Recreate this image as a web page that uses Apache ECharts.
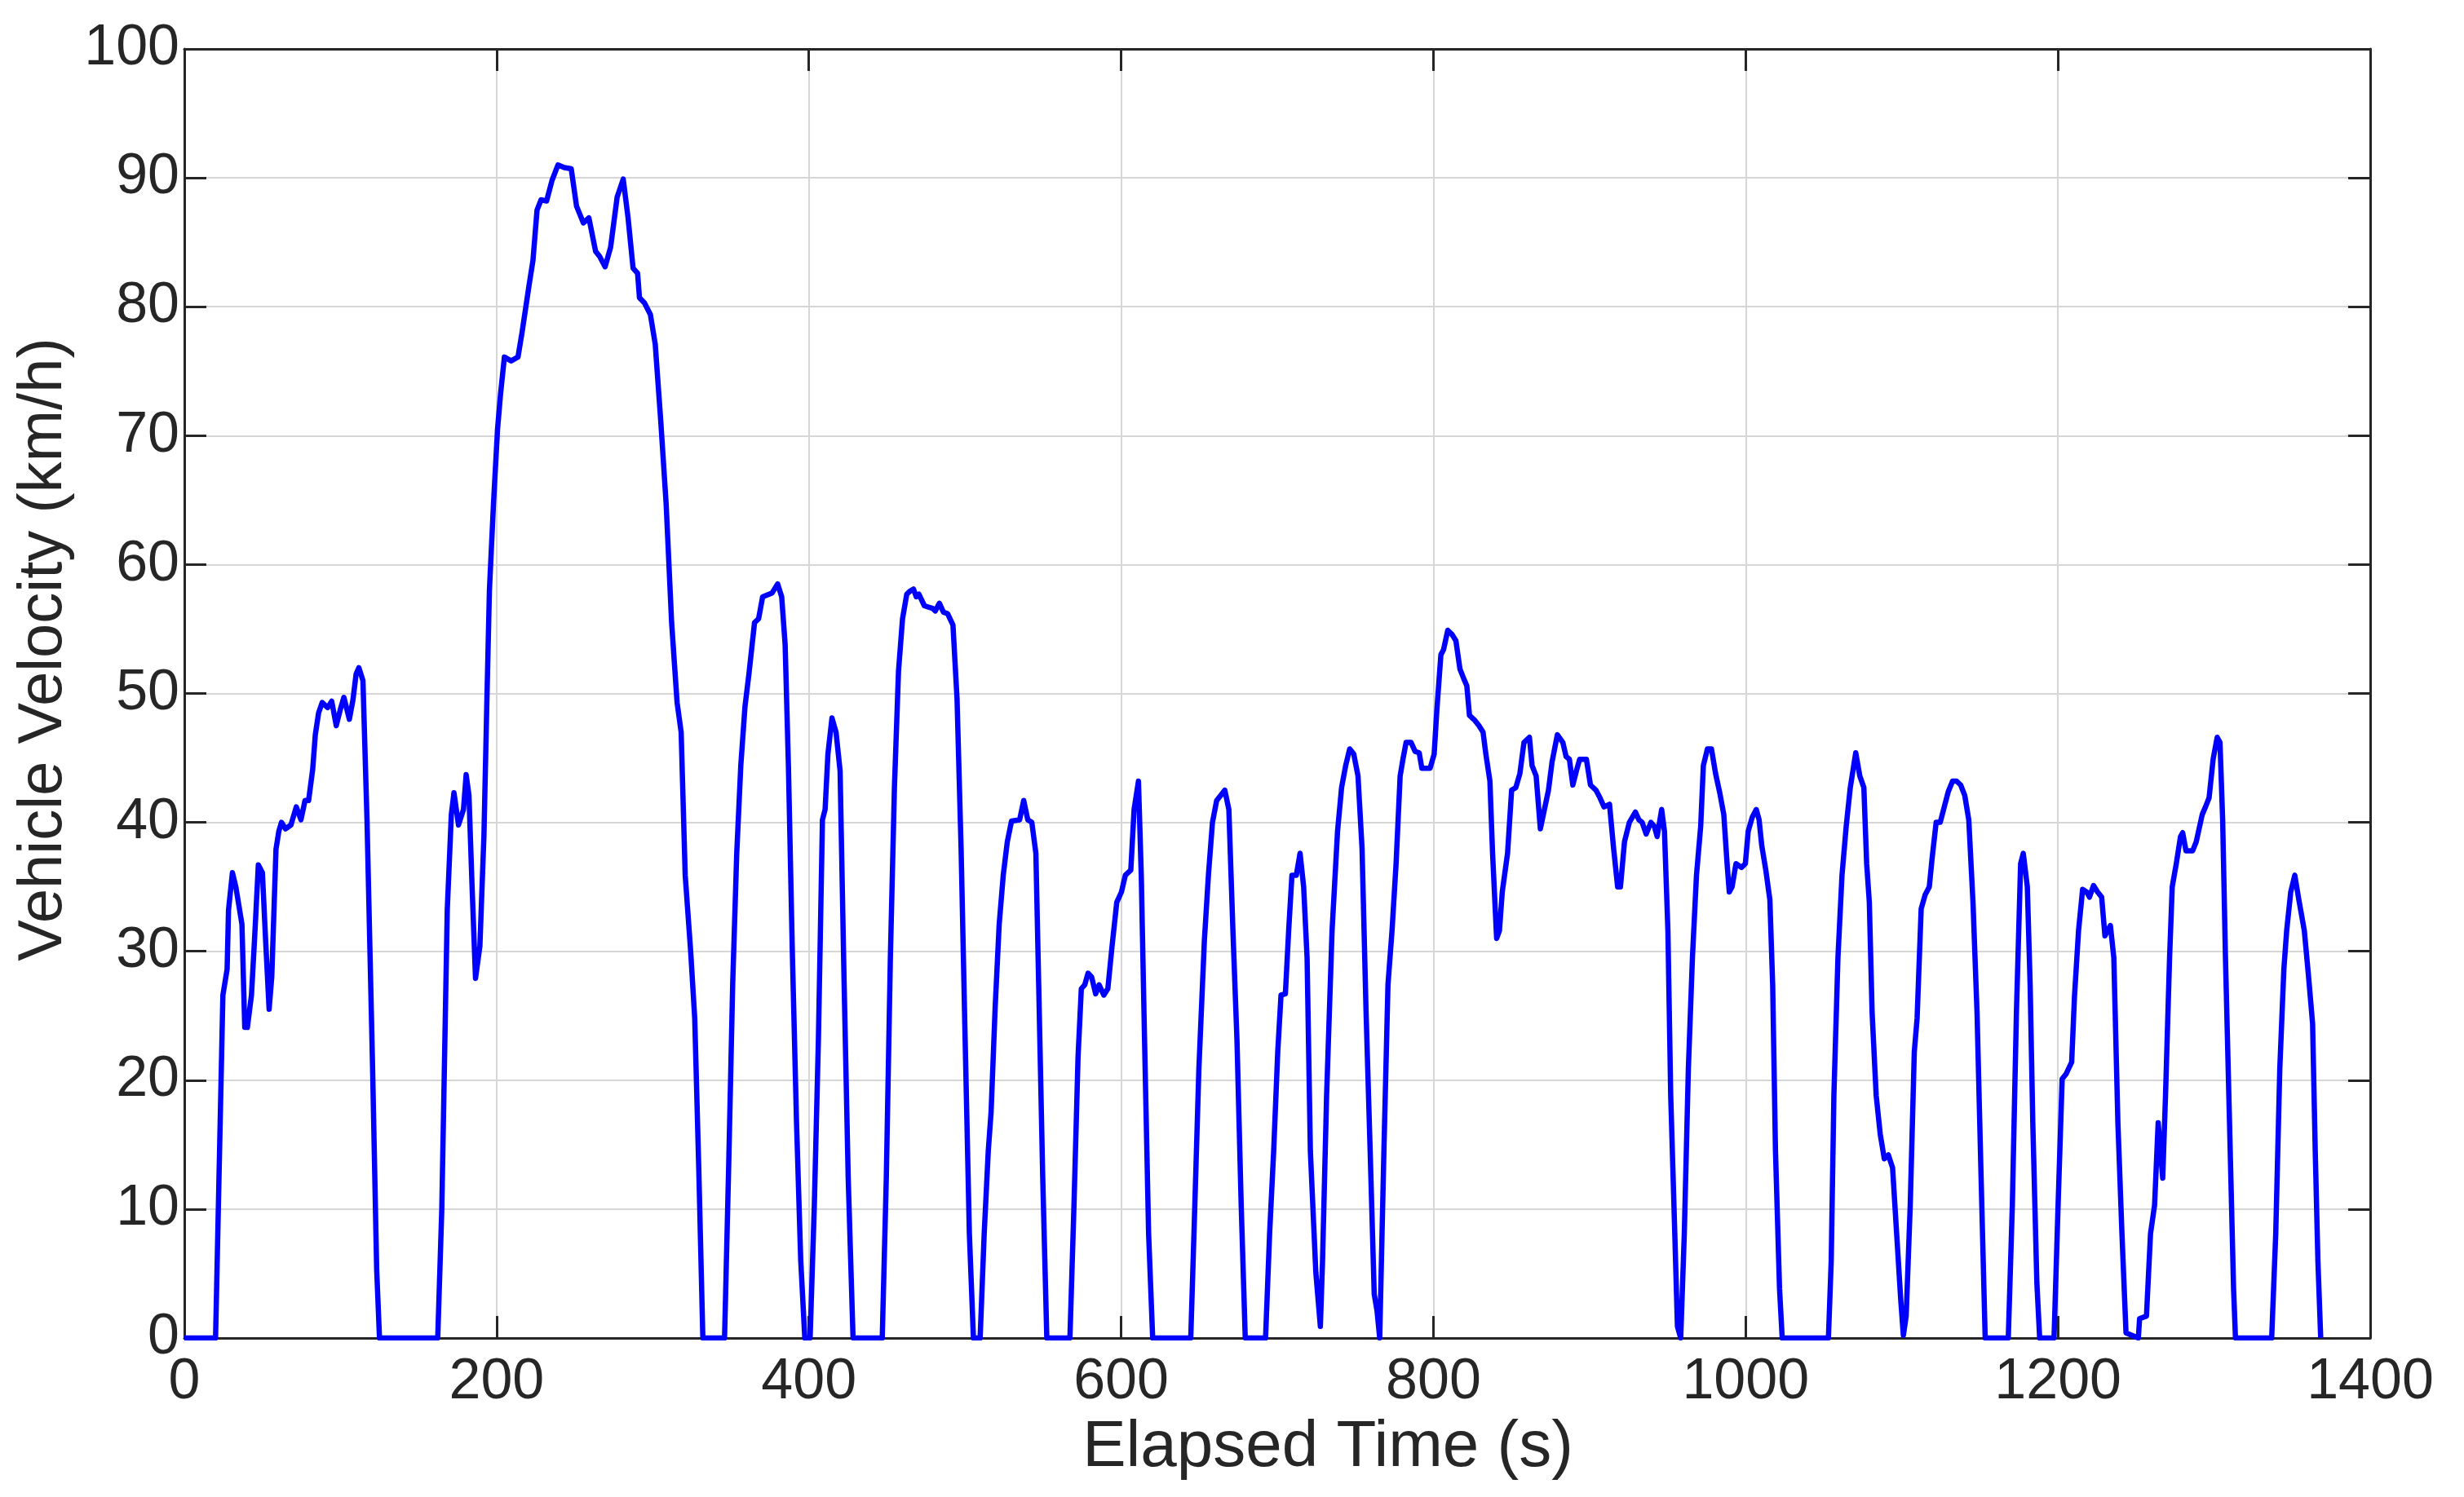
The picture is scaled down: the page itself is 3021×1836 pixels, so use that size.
<!DOCTYPE html>
<html>
<head>
<meta charset="utf-8">
<script src="https://cdn.jsdelivr.net/npm/echarts@6/dist/echarts.min.js"></script>
<style>
  html, body { margin: 0; padding: 0; background: #ffffff; }
  #chart { width: 3021px; height: 1836px; }
</style>
</head>
<body>
<div id="chart"></div>
<script>
// Elapsed time (s) and vehicle velocity (km/h)
const timeS = [
  0, 20, 24.7, 27.4, 28.3, 30.8, 33, 36.9, 38.7, 40.4, 43, 45, 47.4, 50, 52, 54.3, 56, 58.7, 60.5, 62.2,
  64.8, 68.3, 70, 71.7, 74.7, 77.3, 79.6, 82.2, 83.9, 86, 88.3, 91.8, 94.4, 97.3, 100, 102.2, 105.7, 108, 110, 111.8,
  114.4, 117, 120.6, 123.2, 125,
  162.3, 164.9, 168.4, 171, 172.7, 175.6, 178.8, 180.5, 182.3, 184.3, 186.5, 189.3, 191.9, 193.7, 195.4, 198, 200.6, 202.5, 205, 209.3,
  213.7, 216.3, 220.7, 223.3, 225.9, 228.5, 232, 235.5, 239.3, 243.3, 247.8, 251.2, 255.6, 259.1, 263.4, 266, 269.5, 273, 277.2, 281.1,
  284.2, 287.4, 290.3, 291.5, 294.7, 298.5, 301.6, 305.1, 308.6, 312.1, 315.6, 318.2, 320.8, 324.3, 326.9, 329.5, 332.1,
  346, 348.6, 351.2, 353.8, 356.4, 359.1, 361.7, 365.2, 367.8, 370.4, 376.5, 380, 382.6, 384.8, 386.9, 389.5, 392.1, 394.8, 397.4, 400.8,
  403.5, 406.1, 408.7, 410.4, 412.2, 414.8, 417.4, 420, 422.6, 425.2, 428.3,
  447, 449.6, 452.2, 454.8, 457.4, 460, 462.7, 464.4, 467, 468.8, 470.5, 474, 479.2, 481, 483.6, 486.2, 488.8, 492.3, 494.9, 497.5,
  500.1, 502.8, 505.4, 509.7, 512.3, 514.9, 516.7, 519.3, 521.9, 524.5, 527.1, 529.8, 535, 537.6, 540.2, 542.8, 545.4, 547.2, 549.8, 552.4,
  567.2, 569.8, 572.4, 574.5, 576.7, 578.8, 581.1, 583.7, 585.9, 588.9, 591.5, 594.1, 597.2, 600.2, 602.7, 606.2, 608.3, 611.1, 612.9, 615,
  617.6, 620.2, 644.6, 647.2, 649.8, 653.3, 655.9, 658.5, 661.2, 663.8, 666.4, 669, 671.6, 674.2, 676.9, 679.5,
  692.5, 695.1, 697.7, 700.3, 702.4, 705.2, 707.3, 709.4, 712.2, 714.6, 716.9, 719.1, 721.2, 724.7, 727.6, 729, 731.6, 735.1, 738.6, 741.2,
  743.8, 746.4, 749, 751.7, 754.3, 756.9, 759.5, 762.1, 763.9, 765.6,
  768.3, 770.9, 773.5, 776.1, 778.7, 780.5, 782.5, 785.7, 788.3, 790.9, 792.6, 797.9, 800.5, 802.2, 804.8, 806.5, 809.2, 811.8, 814.4, 817,
  819.6, 821.4, 823.1, 826.6, 829.2, 831.8, 833.6, 836.2, 837.9, 840.5, 842.3, 844.1, 847.5, 850.1, 852.8, 855.4, 858, 861.5, 863.2, 865.8,
  868.5, 871.1, 873.7, 876, 879.4, 882.9, 885, 887.1, 889.3, 891.6, 893.7, 898, 900.6, 904.1, 906.7, 909.3, 912.8, 915.4, 918, 919.8,
  922.4, 925.5, 929.4, 931.6, 933.7, 936.3, 939.3, 941.5, 943.3, 946.2, 948, 950.2, 952, 954.6, 956.3, 958.4,
  960.7, 963.3, 965.9, 968.5, 971.2, 972.9, 975.5, 978.1, 980.7, 983.4, 986, 988.1, 989.5, 991.3, 993.8, 997.3, 999.8, 1001.6, 1004.2, 1006.8,
  1008.6, 1010.3, 1012.9, 1015.5, 1017.3, 1019.1, 1021.7, 1023.4,
  1053, 1054.8, 1056.5, 1059.1, 1061.7, 1064.4, 1067, 1070.5, 1073.1, 1075.7, 1077.5, 1079.2, 1081, 1083.6, 1086.2, 1088.8, 1091.4, 1094.1, 1096.7, 1099.3,
  1101, 1102.8, 1105.4, 1108, 1109.8, 1112.4, 1115, 1117.6, 1119.4, 1122, 1124.6, 1127.2, 1129.8, 1132.5, 1135.1, 1137.7, 1140.3, 1142.9, 1145.6, 1148.2,
  1150.8, 1153.4,
  1168.2, 1170.8, 1173.4, 1176.1, 1177.8, 1180.4, 1182.2, 1183.9, 1186.5, 1188.3, 1197.5, 1200.1, 1202.7, 1205.3, 1208.8, 1210.6, 1213.2, 1215.8, 1218.4, 1220.2,
  1222.8, 1225.4, 1228, 1230.1, 1233.6, 1235.8, 1238.4, 1241, 1243.6, 1251.5, 1252.3, 1256.7, 1259.3, 1261.9, 1264.2, 1267.1, 1268.9, 1271.5, 1273.2, 1275.8,
  1278.5, 1279.9, 1282, 1286.3, 1288.6, 1292.4, 1294.5, 1296.8, 1299.4, 1302, 1303.8, 1305.5, 1307.3, 1309.9, 1312.5, 1313.7,
  1336.9, 1339.5, 1342.1, 1344.7, 1346.5, 1349.1, 1351.7, 1354.3, 1357.8, 1360.4, 1363.1, 1364.8, 1366.5, 1368.3
];
const speedKmh = [
  0, 0, 26.6, 28.6, 33.2, 36.1, 35, 32.1, 24.1, 24.1, 26.6, 31, 36.7, 36.1, 31, 25.5, 28, 37.9, 39.3, 40,
  39.5, 39.8, 40.5, 41.2, 40.2, 41.7, 41.7, 44.1, 46.8, 48.5, 49.3, 48.9, 49.4, 47.5, 48.8, 49.7, 48, 49.5, 51.5, 52,
  51, 40.2, 20.8, 5.3, 0,
  0, 10, 33.2, 40.6, 42.3, 39.8, 41, 43.7, 42.1, 35, 27.9, 30.4, 39, 49, 58, 64.7, 70.5, 73.2, 76.1, 75.8,
  76.1, 78, 81.6, 83.6, 87.5, 88.3, 88.2, 89.8, 91, 90.8, 90.7, 87.8, 86.5, 86.9, 84.3, 83.9, 83.1, 84.6, 88.5, 89.9,
  86.9, 83, 82.6, 80.7, 80.3, 79.4, 77.1, 71.2, 64.7, 55.5, 49.3, 47, 35.9, 30, 24.8, 13.1, 0,
  0, 13.1, 27.4, 37.6, 44.4, 49, 51.6, 55.5, 55.8, 57.5, 57.8, 58.5, 57.5, 53.8, 44.4, 29.5, 16.7, 6, 0, 0,
  10.3, 23.1, 40.2, 41, 45.3, 48.1, 47, 44, 27.4, 12.4, 0,
  0, 12.4, 29.5, 42.7, 51.7, 55.8, 57.7, 57.9, 58.1, 57.5, 57.7, 56.8, 56.6, 56.4, 57, 56.3, 56.2, 55.3, 49.6, 38,
  23.1, 8.1, 0, 0, 8.1, 14.5, 17.5, 25.6, 32.1, 35.9, 38.5, 40.1, 40.2, 41.7, 40.2, 40, 37.6, 27.4, 12.4, 0,
  0, 10.3, 21.8, 27.1, 27.4, 28.3, 28, 26.7, 27.4, 26.6, 27.1, 30.3, 33.8, 34.6, 35.9, 36.3, 41, 43.2, 35.9, 23.1,
  8.1, 0, 0, 10.3, 20.9, 30.8, 35.9, 40, 41.7, 42.1, 42.5, 41, 31.6, 23.1, 10.3, 0,
  0, 8.1, 14.5, 22.2, 26.6, 26.7, 31.6, 35.9, 35.9, 37.6, 35, 29.5, 14.5, 5.1, 0.9, 6, 18.8, 31.6, 39.3, 42.7,
  44.4, 45.7, 45.3, 43.6, 38, 25.2, 14.5, 3.4, 2.1, 0,
  14.5, 27.4, 31.6, 36.8, 43.6, 44.9, 46.2, 46.2, 45.5, 45.4, 44.2, 44.2, 45.3, 48.7, 53, 53.4, 54.9, 54.6, 54.1, 51.9,
  51.1, 50.6, 48.3, 47.9, 47.5, 47, 45.3, 43.2, 37.6, 31, 31.6, 34.6, 37.6, 42.5, 42.7, 43.8, 46.2, 46.6, 44.4, 43.6,
  39.5, 41, 42.5, 44.7, 46.8, 46.2, 45.1, 44.9, 42.9, 44, 44.9, 44.9, 42.9, 42.5, 41.9, 41.2, 41.4, 38, 35, 35,
  38.5, 40, 40.8, 40.2, 40, 39.1, 40, 39.7, 38.9, 41, 39.3, 31.6, 18.8, 8.1, 0.9, 0,
  8.1, 20.9, 29.5, 35.9, 39.7, 44.4, 45.7, 45.7, 43.8, 42.3, 40.6, 36.8, 34.6, 35, 36.8, 36.5, 36.8, 39.3, 40.4, 41,
  40.2, 38.2, 36.3, 34, 27.4, 14.5, 3.8, 0,
  0, 6, 18.8, 29.5, 35.9, 39.7, 42.7, 45.4, 43.6, 42.7, 36.8, 33.8, 25.2, 18.8, 15.8, 13.9, 14.2, 13.2, 8.1, 3,
  0.2, 1.7, 10.3, 22.2, 24.8, 33.3, 34.4, 35, 37.2, 40, 40, 41.2, 42.4, 43.2, 43.2, 42.9, 42.1, 40.2, 33.8, 25.2,
  12.4, 0,
  0, 10.3, 25.2, 36.8, 37.6, 35, 27.4, 16.7, 4.3, 0, 0, 10.3, 20.1, 20.5, 21.4, 26.5, 31.6, 34.8, 34.6, 34.2,
  35.1, 34.6, 34.2, 31.2, 32, 29.5, 16.7, 8.1, 0.4, 0, 1.5, 1.7, 8.1, 10.3, 16.7, 12.4, 18.8, 29.5, 35, 36.8,
  38.9, 39.2, 37.8, 37.8, 38.5, 40.6, 41.2, 41.9, 44.9, 46.6, 46.2, 40.2, 29.5, 16.7, 3.8, 0,
  0, 8.1, 20.9, 28.6, 31.6, 34.6, 35.9, 34, 31.6, 28.2, 24.4, 14.5, 6, 0
];
const xTitle = 'Elapsed Time (s)';
const yTitle = 'Vehicle Velocity (km/h)';

const seriesData = timeS.map((t, i) => [t, speedKmh[i]]);

const ink = '#262626';
const font = '"Liberation Sans", Arial, Helvetica, sans-serif';
const axisLineStyle = { color: ink, width: 3 };
const gridStyle = { color: '#d6d6d6', width: 2 };
const plainNumber = v => String(v);

const chart = echarts.init(document.getElementById('chart'), null, { renderer: 'canvas' });
chart.setOption({
  animation: false,
  backgroundColor: '#ffffff',
  grid: { left: 226, right: 115, top: 60, bottom: 195, containLabel: false },
  xAxis: [
    {
      type: 'value', min: 0, max: 1400, interval: 200, position: 'bottom',
      axisLine: { show: true, onZero: false, lineStyle: axisLineStyle },
      axisTick: { show: true, inside: true, length: 27, lineStyle: axisLineStyle },
      axisLabel: { fontSize: 70, color: ink, margin: 20, fontFamily: font, formatter: plainNumber },
      splitLine: { show: true, lineStyle: gridStyle },
      name: xTitle, nameLocation: 'middle', nameGap: 92,
      nameTextStyle: { fontSize: 80, color: ink, fontFamily: font, padding: [0, 0, 0, 124] }
    },
    {
      type: 'value', min: 0, max: 1400, interval: 200, position: 'top',
      axisLine: { show: true, onZero: false, lineStyle: axisLineStyle },
      axisTick: { show: true, inside: true, length: 27, lineStyle: axisLineStyle },
      axisLabel: { show: false },
      splitLine: { show: false }
    }
  ],
  yAxis: [
    {
      type: 'value', min: 0, max: 100, interval: 10, position: 'left',
      axisLine: { show: true, onZero: false, lineStyle: axisLineStyle },
      axisTick: { show: true, inside: true, length: 27, lineStyle: axisLineStyle },
      axisLabel: { fontSize: 70, color: ink, margin: 6, fontFamily: font, formatter: plainNumber },
      splitLine: { show: true, lineStyle: gridStyle },
      name: yTitle, nameLocation: 'middle', nameGap: 114,
      nameTextStyle: { fontSize: 76, color: ink, fontFamily: font, padding: [0, 0, 0, 108] }
    },
    {
      type: 'value', min: 0, max: 100, interval: 10, position: 'right',
      axisLine: { show: true, onZero: false, lineStyle: axisLineStyle },
      axisTick: { show: true, inside: true, length: 27, lineStyle: axisLineStyle },
      axisLabel: { show: false },
      splitLine: { show: false }
    }
  ],
  series: [
    {
      type: 'line',
      data: seriesData,
      xAxisIndex: 0, yAxisIndex: 0,
      showSymbol: false,
      smooth: false,
      lineStyle: { color: '#0000ff', width: 6.5, join: 'round' },
      z: 3
    }
  ]
});
</script>
</body>
</html>
